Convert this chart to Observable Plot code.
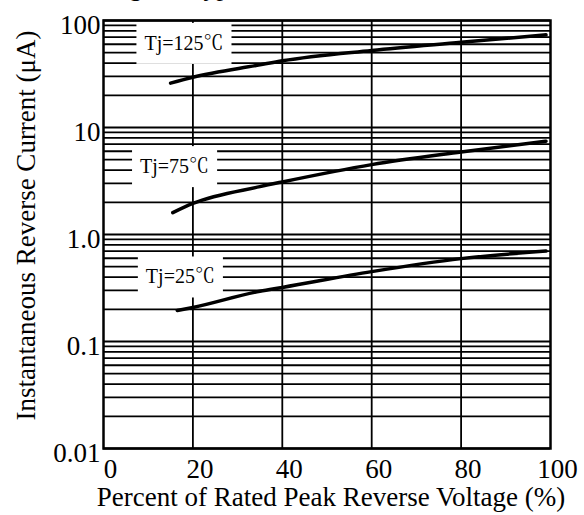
<!DOCTYPE html>
<html>
<head>
<meta charset="utf-8">
<script src="https://cdn.jsdelivr.net/npm/d3@7"></script>
<script src="https://cdn.jsdelivr.net/npm/@observablehq/plot@0.6"></script>
<style>
  html, body { margin: 0; padding: 0; background: #fff; }
  #chart svg { display: block; }
</style>
</head>
<body>
<div id="chart"></div>
<script>
// ---- data ----
const titleText = "Fig. 4 - Typical Reverse Characteristics";
const xTitle = "Percent of Rated Peak Reverse Voltage (%)";
const yTitle = "Instantaneous Reverse Current (μA)";

const xTicks = [0, 20, 40, 60, 80, 100];
const xGridLines = [20, 40, 60, 80];
const yTicks = [0.01, 0.1, 1, 10, 100];
const yTickLabels = ["0.01", "0.1", "1.0", "10", "100"];
const yDomain = [0.01, 100];

const series = ["Tj=125℃", "Tj=75℃", "Tj=25℃"];
const x125 = [15, 20, 35, 40, 60, 80, 99];
const y125 = [26, 29.5, 38.5, 42, 52.5, 62.5, 73.5];
const x75  = [15.5, 20, 35, 40, 60, 80, 99];
const y75  = [1.6, 1.95, 2.8, 3.1, 4.5, 5.9, 7.45];
const x25  = [16.5, 20, 35, 40, 60, 80, 99];
const y25  = [0.195, 0.208, 0.295, 0.32, 0.45, 0.595, 0.70];

// label anchors (data units)
const labelX = [18.0, 15.9, 17.2];
const labelY = [61, 4.3, 0.40];

// ---- build tables ----
const curves = [
  ...x125.map((x, i) => ({series: series[0], x, y: y125[i]})),
  ...x75.map((x, i) => ({series: series[1], x, y: y75[i]})),
  ...x25.map((x, i) => ({series: series[2], x, y: y25[i]}))
];
const labels = series.map((s, i) => ({text: s, x: labelX[i], y: labelY[i]}));
const yGrid = d3.scaleLog().domain(yDomain).ticks();
const fmtY = d => yTickLabels[yTicks.findIndex(v => Math.abs(v - d) < d * 1e-6)];

const serif = '"Liberation Serif", "Times New Roman", "Noto Serif CJK SC", "Noto Sans CJK SC", serif';

const svg = Plot.plot({
  width: 584,
  height: 515,
  marginLeft: 103,
  marginRight: 34,
  marginTop: 20,
  marginBottom: 67,
  style: {fontFamily: serif, fontSize: "27px", color: "#000", background: "#fff", overflow: "hidden"},
  x: {domain: [0, 100]},
  y: {type: "log", domain: yDomain},
  marks: [
    Plot.ruleY(yGrid, {stroke: "#000", strokeWidth: 1.8}),
    Plot.ruleX(xGridLines, {stroke: "#000", strokeWidth: 1.8}),
    Plot.frame({stroke: "#000", strokeWidth: 2.5}),
    Plot.line(curves, {x: "x", y: "y", z: "series", curve: "monotone-x", stroke: "#000", strokeWidth: 3.5}),
    Plot.text(labels, {x: "x", y: "y", text: "text", fontSize: 20, fontFamily: serif, fill: "#000"}),
    Plot.axisX(xTicks, {tickSize: 0, tickPadding: 10, dx: 7, label: null, fontSize: 27}),
    Plot.axisY(yTicks, {tickSize: 0, tickPadding: 3, dy: 5, tickFormat: fmtY, label: null, fontSize: 27}),
    Plot.text([xTitle], {text: d => d, frameAnchor: "bottom", textAnchor: "middle", dx: 4, dy: 57, lineAnchor: "bottom", fontSize: 27}),
    Plot.text([yTitle], {text: d => d, frameAnchor: "left", textAnchor: "middle", lineAnchor: "middle", rotate: -90, dx: -77, dy: -9, fontSize: 27}),
    Plot.text([titleText], {text: d => d, frameAnchor: "top-left", textAnchor: "start", lineAnchor: "bottom", dx: 4, dy: -25, fontSize: 26})
  ]
});

document.getElementById("chart").append(svg);

// white boxes behind the Tj labels
svg.querySelectorAll("text").forEach(t => {
  if (!t.textContent.startsWith("Tj=")) return;
  const b = t.getBBox();
  const r = document.createElementNS("http://www.w3.org/2000/svg", "rect");
  r.setAttribute("x", b.x - 8);
  r.setAttribute("y", b.y - 9);
  r.setAttribute("width", b.width + 16);
  r.setAttribute("height", b.height + 18);
  r.setAttribute("fill", "#fff");
  const tr = t.getAttribute("transform");
  if (tr) r.setAttribute("transform", tr);
  t.parentNode.insertBefore(r, t);
});
</script>
</body>
</html>
